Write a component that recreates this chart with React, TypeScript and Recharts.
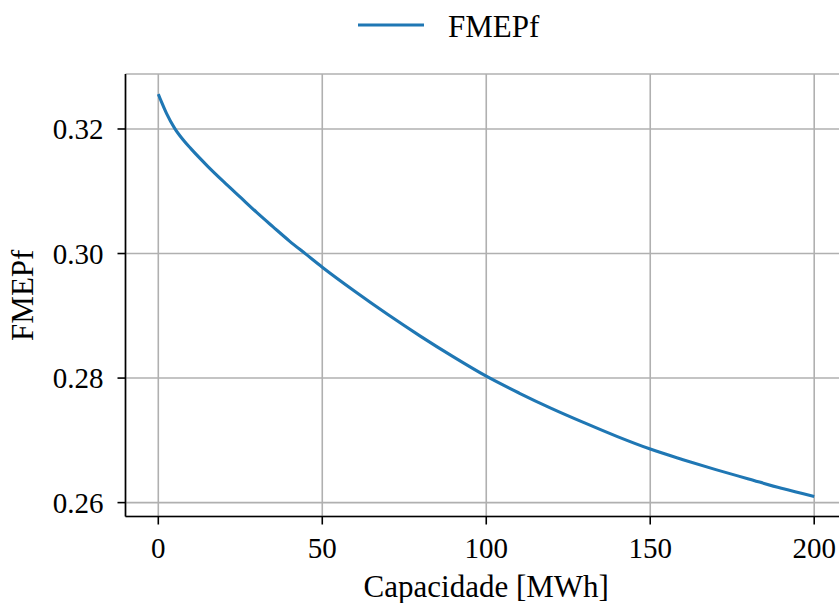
import React from "react";
import { LineChart, Line, XAxis, YAxis, CartesianGrid } from "recharts";

const capacity = [0, 1, 2.5, 5, 7.5, 10, 15, 20, 25, 30, 35, 40, 45, 50, 60, 70, 80, 90, 100, 110, 120, 130, 140, 150, 160, 170, 180, 190, 200];
const fmepf = [0.3256, 0.3243, 0.3225, 0.3201, 0.3183, 0.3168, 0.31405, 0.3115, 0.30905, 0.3066, 0.30428, 0.302, 0.2999, 0.2978, 0.2939, 0.2902, 0.2867, 0.2834, 0.2803, 0.2776, 0.2751, 0.2728, 0.2706, 0.2686, 0.2669, 0.2653, 0.2638, 0.2623, 0.261];
const xTicks = [0, 50, 100, 150, 200];
const yTicks = [0.26, 0.28, 0.3, 0.32];
const seriesName = "FMEPf";
const xLabel = "Capacidade [MWh]";
const yLabel = "FMEPf";

const data = capacity.map((c, i) => ({ c, v: fmepf[i] }));

const FONT = "'Liberation Serif', 'Times New Roman', serif";
const BLUE = "#1f77b4";
const textStyle = { fontFamily: FONT };

const XTick = (props: any) => {
  const { x, y, payload } = props;
  return (
    <text x={x} y={y} dy={20.5} textAnchor="middle" fontSize={29} fill="#000" style={textStyle}>
      {payload.value}
    </text>
  );
};

const YTick = (props: any) => {
  const { x, y, payload } = props;
  return (
    <text x={x} y={y} dy={10} textAnchor="end" fontSize={29} fill="#000" style={textStyle}>
      {Number(payload.value).toFixed(2)}
    </text>
  );
};

export default function App() {
  return (
    <div style={{ position: "absolute", left: 0, top: 0, width: 839, height: 603, overflow: "hidden", background: "#fff", fontFamily: FONT }}>
      <LineChart
        width={880}
        height={603}
        data={data}
        margin={{ top: 74, right: 33, bottom: 0, left: 0 }}
        style={textStyle}
      >
        <CartesianGrid stroke="#b0b0b0" strokeWidth={1.6} />
        <XAxis
          dataKey="c"
          type="number"
          domain={[-10, 210]}
          ticks={xTicks}
          allowDataOverflow
          height={86.5}
          tickSize={8}
          tickMargin={13}
          axisLine={{ stroke: "#000", strokeWidth: 1.6 }}
          tickLine={{ stroke: "#000", strokeWidth: 1.6 }}
          tick={<XTick />}
          label={(props: any) => {
            const vb = props.viewBox || {};
            return (
              <text x={vb.x + vb.width / 2} y={vb.y + 80} textAnchor="middle" fontSize={31} fill="#000" style={textStyle}>
                {xLabel}
              </text>
            );
          }}
        />
        <XAxis
          xAxisId="top"
          orientation="top"
          type="number"
          domain={[-10, 210]}
          height={0}
          tick={false}
          tickLine={false}
          axisLine={{ stroke: "#000", strokeWidth: 1.6 }}
        />
        <YAxis
          type="number"
          domain={[0.25777, 0.32883]}
          ticks={yTicks}
          allowDataOverflow
          width={125.5}
          tickSize={8}
          tickMargin={14}
          axisLine={{ stroke: "#000", strokeWidth: 1.6 }}
          tickLine={{ stroke: "#000", strokeWidth: 1.6 }}
          tick={<YTick />}
          label={(props: any) => {
            const vb = props.viewBox || {};
            const cy = vb.y + vb.height / 2;
            const cx = 33;
            return (
              <text x={cx} y={cy} textAnchor="middle" fontSize={31} fill="#000" style={textStyle} transform={`rotate(-90, ${cx}, ${cy})`}>
                {yLabel}
              </text>
            );
          }}
        />
        <Line
          type="monotone"
          dataKey="v"
          stroke={BLUE}
          strokeWidth={3.1}
          dot={false}
          isAnimationActive={false}
          name={seriesName}
        />
      </LineChart>
      <svg width={839} height={60} style={{ position: "absolute", left: 0, top: 0 }}>
        <line x1={358} y1={25} x2={424} y2={25} stroke={BLUE} strokeWidth={3.1} />
        <text x={448} y={37} fontSize={31} fill="#000" style={textStyle}>
          {seriesName}
        </text>
      </svg>
    </div>
  );
}
